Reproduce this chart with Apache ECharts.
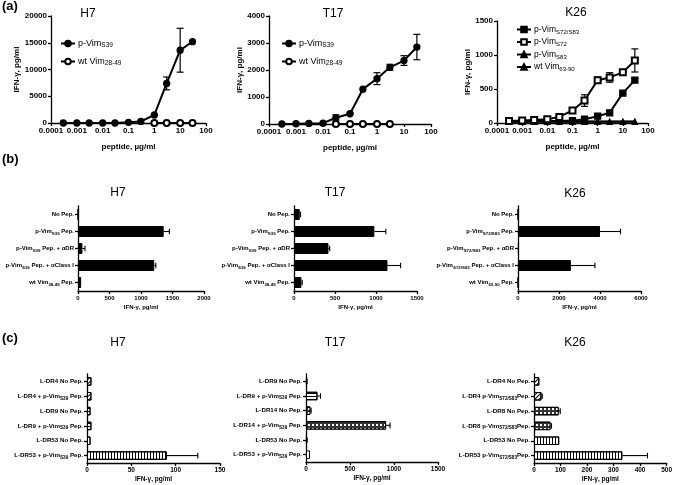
<!DOCTYPE html>
<html>
<head>
<meta charset="utf-8" />
<title>IFN-γ responses</title>
<script src="https://cdn.jsdelivr.net/npm/echarts@6/dist/echarts.min.js"></script>
<style>
    html, body { margin: 0; padding: 0; background: #fff; }
    #container { width: 675px; height: 485px; }
</style>
</head>
<body>
<div id="container"></div>
<script>
// ---------- data ----------
// (a) dose response, peptide in ug/ml
var doses = [0.0003, 0.001, 0.003, 0.01, 0.03, 0.1, 0.3, 1, 3, 10, 30];
var logTickLabels = ['0.0001', '0.001', '0.01', '0.1', '1', '10', '100'];

var h7PVim = [0, 0, 0, 0, 0, 120, 300, 1500, 7400, 13600, 15200];
var h7PVimErr = [0, 0, 0, 0, 0, 0, 0, 0, 1200, 4100, 0];
var h7WtDoses = [1, 3, 10, 30];
var h7Wt = [0, 0, 0, 0];

var t17PVim = [0, 10, 20, 30, 230, 380, 1290, 1680, 2100, 2350, 2850];
var t17PVimErr = [0, 0, 0, 0, 110, 30, 0, 220, 110, 180, 470];
var t17WtDoses = [0.03, 0.1, 0.3, 1, 3];
var t17Wt = [0, 0, 0, 0, 0];

var k26Double = [25, 25, 25, 30, 30, 35, 55, 100, 150, 440, 630];
var k26DoubleErr = [0, 0, 0, 0, 0, 0, 0, 0, 0, 20, 30];
var k26S72 = [30, 35, 45, 55, 90, 185, 330, 630, 670, 745, 920];
var k26S72Err = [0, 0, 0, 0, 10, 15, 85, 45, 70, 15, 170];
var k26S83 = [22, 22, 22, 22, 22, 22, 22, 22, 22, 22, 22];
var k26Wt = [18, 18, 18, 18, 18, 18, 18, 18, 18, 18, 18];

// (b) blocking, IFN-γ pg/ml
var bH7Cats = ['No Pep.', 'p-Vim<S39> Pep.', 'p-Vim<S39> Pep. + αDR', 'p-Vim<S39> Pep. + αClass I', 'wt Vim<28-49> Pep.'];
var bH7Vals = [0, 1360, 70, 1210, 50];
var bH7Err = [0, 90, 40, 25, 0];
var bT17Cats = ['No Pep.', 'p-Vim<S39> Pep.', 'p-Vim<S39> Pep. + αDR', 'p-Vim<S39> Pep. + αClass I', 'wt Vim<28-49> Pep.'];
var bT17Vals = [70, 980, 420, 1140, 90];
var bT17Err = [10, 140, 15, 160, 10];
var bK26Cats = ['No Pep.', 'p-Vim<S72/S83> Pep.', 'p-Vim<S72/S83> Pep. + αDR', 'p-Vim<S72/S83> Pep. + αClass I', 'wt Vim<63-90> Pep.'];
var bK26Vals = [0, 4000, 40, 2580, 0];
var bK26Err = [0, 1000, 0, 1170, 0];

// (c) L-cell HLA restriction, IFN-γ pg/ml
var cH7Cats = ['L-DR4 No Pep.', 'L-DR4 + p-Vim<S39> Pep.', 'L-DR9 No Pep.', 'L-DR9 + p-Vim<S39> Pep.', 'L-DR53 No Pep.', 'L-DR53 + p-Vim<S39> Pep.'];
var cH7Vals = [5, 5, 4, 5, 4, 90];
var cH7Err = [0, 0, 0, 0, 0, 35];
var cT17Cats = ['L-DR9 No Pep.', 'L-DR9 + p-Vim<S39> Pep.', 'L-DR14 No Pep.', 'L-DR14 + p-Vim<S39> Pep.', 'L-DR53 No Pep.', 'L-DR53 + p-Vim<S39> Pep.'];
var cT17Vals = [10, 130, 50, 910, 10, 45];
var cT17Err = [3, 35, 8, 45, 3, 0];
var cK26Cats = ['L-DR4 No Pep.', 'L-DR4 p-Vim<S72/S83>Pep.', 'L-DR8 No Pep.', 'L-DR8 p-Vim<S72/S83>Pep.', 'L-DR53 No Pep.', 'L-DR53 p-Vim<S72/S83>Pep.'];
var cK26Vals = [20, 28, 93, 62, 95, 333];
var cK26Err = [0, 3, 6, 4, 0, 95];

// ---------- drawing ----------
var FONT = '"Liberation Sans", Arial, sans-serif';
var chart = echarts.init(document.getElementById('container'));

function sub(text) { return text.replace(/<([^>]*)>/g, '{s|$1}'); }

var lineBlack = { color: '#000', width: 1.3 };

var grids = [
    { left: 51, top: 16, width: 155, height: 107 },
    { left: 269, top: 16, width: 162, height: 108 },
    { left: 497, top: 21, width: 151, height: 102 },
    { left: 78, top: 206, width: 126, height: 85 },
    { left: 294, top: 206, width: 123, height: 85 },
    { left: 518, top: 206, width: 123, height: 85 },
    { left: 87, top: 374, width: 133, height: 89 },
    { left: 306, top: 374, width: 132, height: 88 },
    { left: 534, top: 374, width: 133, height: 89 }
];

function valueAxis(gi, max, interval, fontSize, name, nameGap, nameSize) {
    return {
        type: 'value', gridIndex: gi, min: 0, max: max, interval: interval,
        axisLine: { show: true, onZero: false, lineStyle: lineBlack },
        axisTick: { show: true, length: 3, lineStyle: lineBlack },
        splitLine: { show: false },
        axisLabel: {
            color: '#000', fontSize: fontSize, fontWeight: 'bold', fontFamily: FONT, margin: 4,
            formatter: function (v) { return String(v); }
        },
        name: name, nameLocation: 'middle', nameGap: nameGap,
        nameTextStyle: { color: '#000', fontSize: nameSize, fontWeight: 'bold', fontFamily: FONT }
    };
}

function logAxis(gi) {
    return {
        type: 'log', gridIndex: gi, logBase: 10, min: 0.0001, max: 100, interval: 1,
        axisLine: { show: true, onZero: false, lineStyle: lineBlack },
        axisTick: { show: true, length: 3, lineStyle: lineBlack },
        splitLine: { show: false },
        axisLabel: {
            color: '#000', fontSize: 8, fontWeight: 'bold', fontFamily: FONT, margin: 4,
            formatter: function (v) { return logTickLabels[Math.round(Math.log10(v)) + 4]; }
        },
        name: 'peptide, µg/ml', nameLocation: 'middle', nameGap: 20,
        nameTextStyle: { color: '#000', fontSize: 8, fontWeight: 'bold', fontFamily: FONT }
    };
}

function catAxis(gi, cats, fontSize) {
    return {
        type: 'category', gridIndex: gi, data: cats, inverse: true,
        axisLine: { show: true, onZero: false, lineStyle: lineBlack },
        axisTick: { show: true, length: 3, alignWithLabel: true, lineStyle: lineBlack },
        axisLabel: {
            color: '#000', fontSize: fontSize, fontWeight: 'bold', fontFamily: FONT, margin: 4,
            lineHeight: 9, interval: 0,
            formatter: function (v) { return sub(v); },
            rich: { s: { fontSize: fontSize - 1.6, fontWeight: 'bold', fontFamily: FONT, color: '#000', verticalAlign: 'bottom', lineHeight: 6 } }
        }
    };
}

var xAxes = [
    logAxis(0), logAxis(1), logAxis(2),
    valueAxis(3, 2000, 500, 6, 'IFN-γ, pg/ml', 13, 6),
    valueAxis(4, 1500, 500, 6, 'IFN-γ, pg/ml', 13, 6),
    valueAxis(5, 6000, 2000, 6, 'IFN-γ, pg/ml', 13, 6),
    valueAxis(6, 150, 50, 6.5, 'IFN-γ, pg/ml', 13, 6.5),
    valueAxis(7, 1500, 500, 6.5, 'IFN-γ, pg/ml', 13, 6.5),
    valueAxis(8, 500, 100, 6.5, 'IFN-γ, pg/ml', 13, 6.5)
];
var yAxes = [
    valueAxis(0, 20000, 5000, 8, 'IFN-γ, pg/ml', 28, 8),
    valueAxis(1, 4000, 1000, 8, 'IFN-γ, pg/ml', 23, 8),
    valueAxis(2, 1500, 500, 8, 'IFN-γ, pg/ml', 23, 8),
    catAxis(3, bH7Cats, 6), catAxis(4, bT17Cats, 6), catAxis(5, bK26Cats, 6),
    catAxis(6, cH7Cats, 6.2), catAxis(7, cT17Cats, 6.2), catAxis(8, cK26Cats, 6.2)
];

function pairs(xs, ys) { return xs.map(function (x, i) { return [x, ys[i]]; }); }

function lineSeries(name, gi, xs, ys, symbol, size) {
    return {
        type: 'line', name: name, xAxisIndex: gi, yAxisIndex: gi,
        data: pairs(xs, ys), symbol: symbol, symbolSize: size,
        lineStyle: { color: '#000', width: 2 },
        itemStyle: { color: '#000', borderColor: '#000', borderWidth: 1.3 },
        z: 3, animation: false
    };
}

function vErrSeries(gi, xs, ys, errs) {
    var d = [];
    xs.forEach(function (x, i) { if (errs[i] > 0) d.push([x, ys[i], errs[i]]); });
    return {
        type: 'custom', xAxisIndex: gi, yAxisIndex: gi, data: d, z: 2,
        encode: { x: 0, y: 1 },
        renderItem: function (params, api) {
            var x = api.value(0), y = api.value(1), e = api.value(2);
            var t = api.coord([x, y + e]), b = api.coord([x, Math.max(y - e, 0)]);
            var w = 3.5, st = { stroke: '#000', lineWidth: 1.2 };
            return { type: 'group', children: [
                { type: 'line', shape: { x1: t[0], y1: t[1], x2: b[0], y2: b[1] }, style: st },
                { type: 'line', shape: { x1: t[0] - w, y1: t[1], x2: t[0] + w, y2: t[1] }, style: st },
                { type: 'line', shape: { x1: b[0] - w, y1: b[1], x2: b[0] + w, y2: b[1] }, style: st }
            ] };
        }
    };
}

function hErrSeries(gi, vals, errs) {
    var d = [];
    vals.forEach(function (v, i) { if (errs[i] > 0) d.push([v, i, errs[i]]); });
    return {
        type: 'custom', xAxisIndex: gi, yAxisIndex: gi, data: d, z: 1,
        encode: { x: 0, y: 1 },
        renderItem: function (params, api) {
            var v = api.value(0), c = api.value(1), e = api.value(2);
            var a = api.coord([v, c]), b = api.coord([v + e, c]);
            var h = 2.8, st = { stroke: '#000', lineWidth: 1.1 };
            return { type: 'group', children: [
                { type: 'line', shape: { x1: a[0], y1: a[1], x2: b[0], y2: b[1] }, style: st },
                { type: 'line', shape: { x1: b[0], y1: b[1] - h, x2: b[0], y2: b[1] + h }, style: st }
            ] };
        }
    };
}

// fill patterns for the L-cell bars
var decals = {
    solid: null,
    vstripe: { symbol: 'rect', symbolSize: 1, color: '#000', dashArrayX: [1, 1.3], dashArrayY: [4, 0] },
    hstripe: { symbol: 'rect', symbolSize: 1, color: '#000', dashArrayX: [4, 0], dashArrayY: [1, 1.3] },
    diag: { symbol: 'rect', symbolSize: 1, color: '#000', dashArrayX: [4, 0], dashArrayY: [1, 1.6], rotation: -Math.PI / 4 },
    checker: { symbol: 'rect', symbolSize: 1, color: '#fff', dashArrayX: [1.2, 1.2], dashArrayY: [1.2, 1.2] }
};
var cPatterns = [
    ['diag', 'diag', 'hstripe', 'hstripe', 'vstripe', 'vstripe'],
    ['solid', 'hstripe', 'checker', 'checker', 'solid', 'solid'],
    ['diag', 'diag', 'checker', 'checker', 'vstripe', 'vstripe']
];

function barSeries(gi, vals, width, patterns) {
    return {
        type: 'bar', xAxisIndex: gi, yAxisIndex: gi, barWidth: width, z: 2,
        data: vals.map(function (v, i) {
            var p = patterns ? patterns[i] : null;
            var st = { color: '#000', borderColor: '#000', borderWidth: 1 };
            if (patterns) {
                st.color = p === 'checker' ? '#333' : '#fff';
                if (decals[p]) st.decal = decals[p];
            }
            return { value: v, itemStyle: st };
        }),
        animation: false
    };
}

var series = [
    lineSeries('H7 p-Vim<S39>', 0, doses, h7PVim, 'circle', 6),
    lineSeries('H7 wt Vim<28-49>', 0, h7WtDoses, h7Wt, 'emptyCircle', 6),
    vErrSeries(0, doses, h7PVim, h7PVimErr),
    lineSeries('T17 p-Vim<S39>', 1, doses, t17PVim, 'circle', 6),
    lineSeries('T17 wt Vim<28-49>', 1, t17WtDoses, t17Wt, 'emptyCircle', 6),
    vErrSeries(1, doses, t17PVim, t17PVimErr),
    lineSeries('K26 wt Vim<63-90>', 2, doses, k26Wt, 'triangle', 5),
    lineSeries('K26 p-Vim<S83>', 2, doses, k26S83, 'triangle', 4),
    lineSeries('K26 p-Vim<S72/S83>', 2, doses, k26Double, 'rect', 6),
    lineSeries('K26 p-Vim<S72>', 2, doses, k26S72, 'emptyRect', 6),
    vErrSeries(2, doses, k26Double, k26DoubleErr),
    vErrSeries(2, doses, k26S72, k26S72Err),
    barSeries(3, bH7Vals, 11), hErrSeries(3, bH7Vals, bH7Err),
    barSeries(4, bT17Vals, 11), hErrSeries(4, bT17Vals, bT17Err),
    barSeries(5, bK26Vals, 11), hErrSeries(5, bK26Vals, bK26Err),
    barSeries(6, cH7Vals, 8.5, cPatterns[0]), hErrSeries(6, cH7Vals, cH7Err),
    barSeries(7, cT17Vals, 8.5, cPatterns[1]), hErrSeries(7, cT17Vals, cT17Err),
    barSeries(8, cK26Vals, 8.5, cPatterns[2]), hErrSeries(8, cK26Vals, cK26Err)
];

function legendFmt(name) { return sub(name.slice(name.indexOf(' ') + 1)); }
function legendBox(left, top, gap, fontSize, names) {
    return {
        left: left, top: top, orient: 'vertical', itemGap: gap, itemWidth: 14, itemHeight: 7,
        selectedMode: false, padding: 0, data: names, formatter: legendFmt,
        textStyle: {
            color: '#000', fontSize: fontSize, fontFamily: FONT, lineHeight: 11, padding: [0, 0, 0, -2],
            rich: { s: { fontSize: fontSize - 2.5, fontFamily: FONT, color: '#000', verticalAlign: 'bottom', lineHeight: 7 } }
        }
    };
}

function heading(text, x, y, size, weight, align) {
    return {
        text: text, left: x, top: y, textAlign: align || 'center', padding: 0,
        textStyle: { color: '#000', fontSize: size, fontWeight: weight, fontFamily: FONT }
    };
}

var option = {
    backgroundColor: '#fff',
    animation: false,
    title: [
        heading('(a)', 2, 0, 13, 'bold', 'left'),
        heading('(b)', 2, 153, 13, 'bold', 'left'),
        heading('(c)', 2, 332, 13, 'bold', 'left'),
        heading('H7', 88, 8, 12, 'normal'),
        heading('T17', 333, 8, 12, 'normal'),
        heading('K26', 576, 7, 12, 'normal'),
        heading('H7', 118, 187, 12, 'normal'),
        heading('T17', 335, 187, 12, 'normal'),
        heading('K26', 575, 188, 12, 'normal'),
        heading('H7', 118, 337, 12, 'normal'),
        heading('T17', 335, 337, 12, 'normal'),
        heading('K26', 575, 337, 12, 'normal')
    ],
    legend: [
        legendBox(60, 38, 7, 9, ['H7 p-Vim<S39>', 'H7 wt Vim<28-49>']),
        legendBox(281, 38, 7, 9, ['T17 p-Vim<S39>', 'T17 wt Vim<28-49>']),
        legendBox(516, 24, 1.5, 8.5, ['K26 p-Vim<S72/S83>', 'K26 p-Vim<S72>', 'K26 p-Vim<S83>', 'K26 wt Vim<63-90>'])
    ],
    grid: grids,
    xAxis: xAxes,
    yAxis: yAxes,
    series: series
};

chart.setOption(option);
</script>
</body>
</html>
